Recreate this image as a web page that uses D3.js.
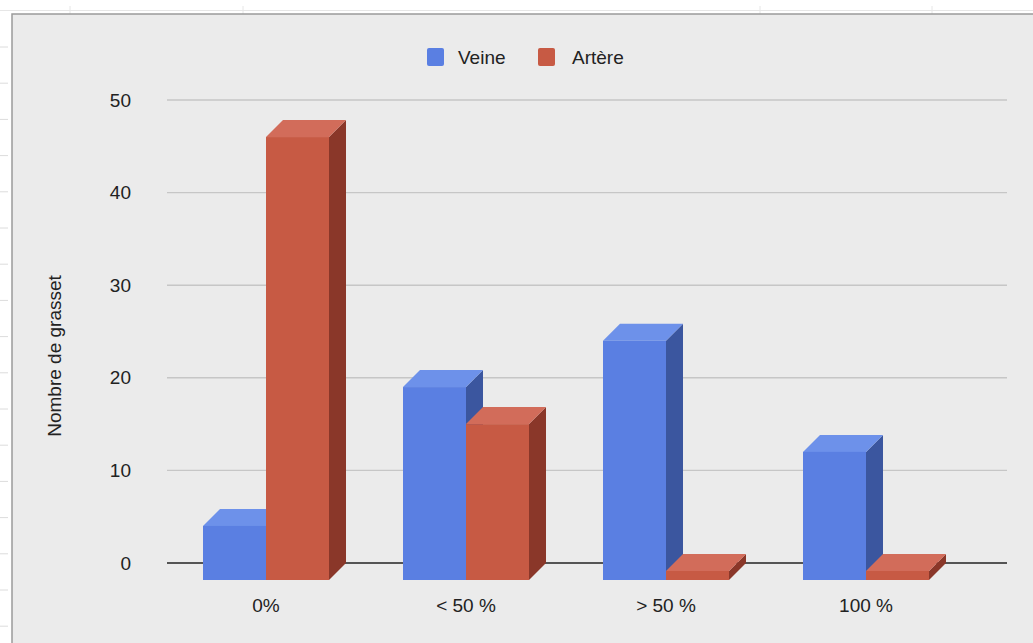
<!DOCTYPE html>
<html>
<head>
<meta charset="utf-8">
<script src="https://cdn.jsdelivr.net/npm/d3@7/dist/d3.min.js"></script>
<style>
  html, body { margin: 0; padding: 0; background: #ffffff; }
  svg { display: block; }
  text { font-family: "Liberation Sans", Arial, Helvetica, sans-serif; fill: #222; }
</style>
</head>
<body>
<svg id="chart" width="1033" height="643"></svg>
<script>
// ---- data ----
const categories = ["0%", "< 50 %", "> 50 %", "100 %"];
const seriesNames = ["Veine", "Artère"];
const veine = [4, 19, 24, 12];
const artere = [46, 15, 0, 0];
const yTicks = [0, 10, 20, 30, 40, 50];
const axisTitle = "Nombre de grasset";

// ---- styles ----
const palette = {
  "Veine":  { front: "#5a7fe2", top: "#6d91ea", side: "#3b569f" },
  "Artère": { front: "#c75a44", top: "#d26c5a", side: "#8a3729" }
};
const depth = 17;

const svg = d3.select("#chart");

// spreadsheet background decorations
svg.append("line").attr("x1", 0).attr("x2", 1033).attr("y1", 10.5).attr("y2", 10.5)
  .attr("stroke", "#e6e6e6").attr("stroke-width", 1);
[70, 243, 760, 932].forEach(x => {
  svg.append("line").attr("x1", x).attr("x2", x).attr("y1", 6).attr("y2", 14)
    .attr("stroke", "#e6e6e6").attr("stroke-width", 1);
});
d3.range(47, 640, 36.2).forEach(yv => {
  svg.append("line").attr("x1", 0).attr("x2", 8).attr("y1", yv).attr("y2", yv)
    .attr("stroke", "#dcdcdc").attr("stroke-width", 1);
});

// chart frame
svg.append("rect").attr("x", 12).attr("y", 14).attr("width", 1040).attr("height", 650)
  .attr("fill", "#ebebeb").attr("stroke", "#9a9a9a").attr("stroke-width", 1.5);

// scales
const y = d3.scaleLinear().domain([0, 50]).range([563, 100]);
const x0 = d3.scaleBand().domain(categories).range([166, 966]).paddingInner(0.37).paddingOuter(0.185);
const x1 = d3.scaleBand().domain(seriesNames).range([0, x0.bandwidth()]);

// gridlines
const gridX1 = 167, gridX2 = 1007;
svg.append("g").selectAll("line").data(yTicks).join("line")
  .attr("x1", gridX1).attr("x2", gridX2)
  .attr("y1", d => y(d)).attr("y2", d => y(d))
  .attr("stroke", d => d === 0 ? "#222" : "#c6c6c6")
  .attr("stroke-width", d => d === 0 ? 1.6 : 1.4);

// y axis tick labels
const yAxis = d3.axisLeft(y).tickValues(yTicks).tickSize(0).tickPadding(0);
const gy = svg.append("g").attr("transform", "translate(131,0)").call(yAxis);
gy.select(".domain").remove();
gy.selectAll("text").attr("font-size", 19).attr("fill", "#222")
  .attr("font-family", "Liberation Sans, Arial, sans-serif");

// x axis labels
const xAxis = d3.axisBottom(x0).tickSize(0).tickPadding(0);
const gx = svg.append("g").attr("transform", "translate(0,598)").call(xAxis);
gx.select(".domain").remove();
gx.selectAll("text").attr("font-size", 19).attr("fill", "#222")
  .attr("font-family", "Liberation Sans, Arial, sans-serif");

// 3D bars
const baseFront = y(0) + depth;
const rows = [];
seriesNames.forEach((s, si) => {
  const vals = si === 0 ? veine : artere;
  categories.forEach((c, ci) => rows.push({ series: s, cat: c, value: vals[ci] }));
});

const bars = svg.append("g");
rows.forEach(d => {
  const xl = x0(d.cat) + x1(d.series);
  const xr = xl + x1.bandwidth();
  const yt = d.value > 0 ? y(d.value) : baseFront - 9;
  const col = palette[d.series];
  const g = bars.append("g");
  // side face
  g.append("path")
    .attr("d", `M${xr},${yt} L${xr + depth},${yt - depth} L${xr + depth},${baseFront - depth} L${xr},${baseFront} Z`)
    .attr("fill", col.side);
  // top face
  g.append("path")
    .attr("d", `M${xl},${yt} L${xr},${yt} L${xr + depth},${yt - depth} L${xl + depth},${yt - depth} Z`)
    .attr("fill", col.top);
  // front face
  g.append("rect")
    .attr("x", xl).attr("y", yt).attr("width", x1.bandwidth()).attr("height", baseFront - yt)
    .attr("fill", col.front);
});

// legend
const legend = svg.append("g");
const legendItems = [
  { name: seriesNames[0], x: 427, tx: 458 },
  { name: seriesNames[1], x: 538, tx: 572 }
];
legendItems.forEach(it => {
  legend.append("rect").attr("x", it.x).attr("y", 48).attr("width", 17).attr("height", 18)
    .attr("rx", 2).attr("fill", palette[it.name].front);
  legend.append("text").attr("x", it.tx).attr("y", 64).attr("font-size", 19).text(it.name);
});

// y axis title
svg.append("text")
  .attr("transform", `translate(61,356) rotate(-90)`)
  .attr("text-anchor", "middle")
  .attr("font-size", 19)
  .text(axisTitle);
</script>
</body>
</html>
